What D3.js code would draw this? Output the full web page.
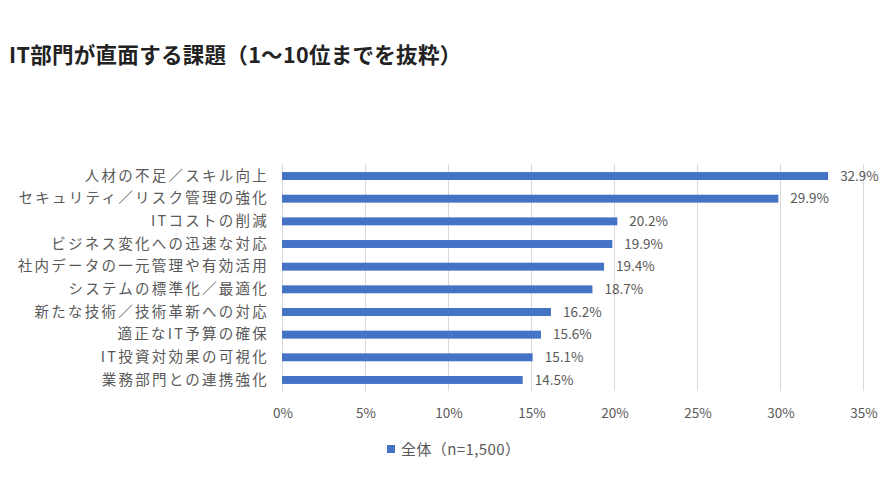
<!DOCTYPE html>
<html><head><meta charset="utf-8">
<script src="https://cdn.jsdelivr.net/npm/d3@7"></script>
<style>
html,body{margin:0;padding:0;background:#fff;}
svg{display:block;font-family:"Noto Sans CJK JP","Noto Sans",sans-serif;}
</style></head>
<body>
<svg id="chart" width="896" height="504"></svg>
<script>
const categories = ["人材の不足／スキル向上","セキュリティ／リスク管理の強化","ITコストの削減","ビジネス変化への迅速な対応","社内データの一元管理や有効活用","システムの標準化／最適化","新たな技術／技術革新への対応","適正なIT予算の確保","IT投資対効果の可視化","業務部門との連携強化"];
const values = [32.9,29.9,20.2,19.9,19.4,18.7,16.2,15.6,15.1,14.5];
const ticks = [0,5,10,15,20,25,30,35];
const seriesName = "全体（n=1,500）";
const title = "IT部門が直面する課題（1〜10位までを抜粋）";

const svg = d3.select("#chart");
const x = d3.scaleLinear().domain([0,35]).range([282,863]);
const y = d3.scaleBand().domain(categories).range([164.7,391.3]).paddingInner(0.65).paddingOuter(0.325);

svg.append("text").attr("x",9).attr("y",63).attr("font-size",21.5).attr("letter-spacing","0.3px").attr("font-weight","bold").attr("fill","#222").text(title);

// gridlines
const grid = svg.append("g").attr("transform","translate(0,164)")
  .call(d3.axisBottom(x).tickValues(ticks).tickSize(391-164).tickFormat(""));
grid.select(".domain").remove();
grid.selectAll(".tick line").attr("stroke","#d9d9d9");

// tick labels
svg.append("g").selectAll("text").data(ticks).join("text")
  .attr("x",d=>x(d)+1).attr("y",417.5).attr("text-anchor","middle")
  .attr("font-size",13.5).attr("fill","#595959").text(d=>d+"%");

// category axis
const ya = svg.append("g").attr("transform",`translate(${x(0)},0)`)
  .call(d3.axisLeft(y).tickSize(0).tickPadding(13));
ya.select(".domain").attr("stroke","#d9d9d9");
ya.selectAll("text").attr("font-size",14.5).attr("fill","#595959").attr("letter-spacing","2.25px")
  .attr("font-family","'Noto Sans CJK JP',sans-serif");

// bars
svg.append("g").selectAll("rect").data(values).join("rect")
  .attr("x",x(0)).attr("y",(d,i)=>y(categories[i]))
  .attr("width",d=>x(d)-x(0)).attr("height",y.bandwidth()).attr("fill","#4472c4");

// value labels
svg.append("g").selectAll("text").data(values).join("text")
  .attr("x",d=>x(d)+12).attr("y",(d,i)=>y(categories[i])+y.bandwidth()/2).attr("dy","0.35em")
  .attr("font-size",13.5).attr("fill","#595959").text(d=>d.toFixed(1)+"%");

// legend
svg.append("rect").attr("x",387).attr("y",445).attr("width",8).attr("height",8).attr("fill","#4472c4");
svg.append("text").attr("x",401).attr("y",455).attr("font-size",15).attr("letter-spacing","0.4px").attr("fill","#595959").text(seriesName);
</script>
</body></html>
